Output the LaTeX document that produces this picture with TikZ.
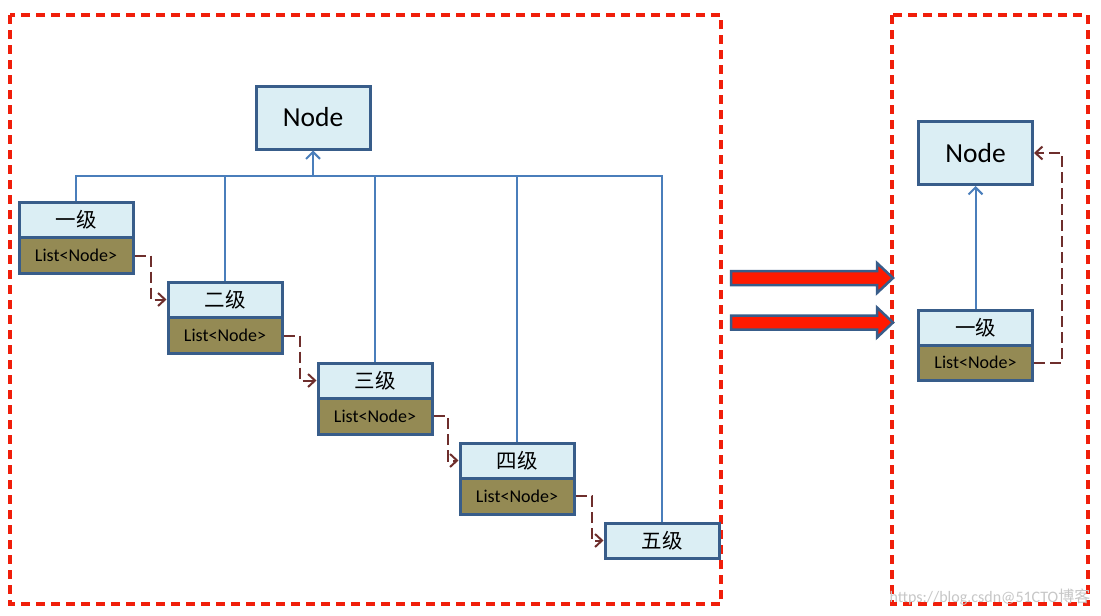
\documentclass[tikz,border=0pt]{standalone}
\usepackage{fontspec}
\setmainfont{Carlito}
\newfontfamily\cjk{Noto Sans CJK SC}
\usetikzlibrary{arrows.meta}
\definecolor{bord}{HTML}{385D8A}
\definecolor{lblue}{HTML}{DBEEF4}
\definecolor{olivebox}{HTML}{948A54}
\definecolor{conn}{HTML}{4A7EBB}
\definecolor{brn}{HTML}{6E2E2C}
\definecolor{redline}{HTML}{F01E0A}
\definecolor{redfill}{HTML}{FF1A00}
\tikzset{
  frame/.style={draw=redline, line width=3.2pt, dash pattern=on 9pt off 6pt},
  nodebox/.style={draw=bord, fill=lblue, line width=3pt, minimum width=114pt, minimum height=63pt, inner sep=0pt, font=\fontsize{27.5}{27.5}\selectfont},
  lvl/.style={draw=bord, fill=lblue, line width=3pt, minimum width=114pt, minimum height=35pt, inner sep=0pt, font=\cjk\fontsize{20.5}{20.5}\selectfont},
  lst/.style={draw=bord, fill=olivebox, line width=3pt, minimum width=114pt, minimum height=36pt, inner sep=0pt, font=\fontsize{18}{18}\selectfont},
  bl/.style={draw=conn, line width=2pt},
  blarrow/.style={bl, -{Straight Barb[length=7pt,width=14pt,line width=2pt]}},
  br/.style={draw=brn, line width=2pt, dash pattern=on 11pt off 5pt, -{Straight Barb[length=7pt,width=13pt,line width=2pt]}},
  bigarrow/.style={fill=redfill, draw=bord, line width=2.5pt, line join=miter}
}
\begin{document}
\begin{tikzpicture}[x=1pt,y=-1pt]
\useasboundingbox (0,0) rectangle (1101,616);
\fill[white] (0,0) rectangle (1101,616);
% frames
\draw[frame] (10,15) rectangle (721,604);
\draw[frame] (892,15) rectangle (1088,604);
% left side
\node[nodebox] (N) at (313,117.5) {Node};
\node[lst] (p1) at (76,255.5) {List<Node>};
\node[lvl] (l1) at (76,219.5) {一级};
\node[lst] (p2) at (225,335.5) {List<Node>};
\node[lvl] (l2) at (225,299.5) {二级};
\node[lst] (p3) at (375,416) {List<Node>};
\node[lvl] (l3) at (375,380.5) {三级};
\node[lst] (p4) at (517,496) {List<Node>};
\node[lvl] (l4) at (517,460.5) {四级};
\node[lvl] (l5) at (662,540.5) {五级};
\coordinate (j) at (313,176);
\draw[bl] (l1.north) -- (l1.north |- j) -- (l5.north |- j) -- (l5.north);
\draw[bl] (l2.north) -- (l2.north |- j);
\draw[bl] (l3.north) -- (l3.north |- j);
\draw[bl] (l4.north) -- (l4.north |- j);
\draw[blarrow] (j) -- (N.south);
\draw[br] (p1.east) -- ++(16,0) |- (l2.west);
\draw[br] (p2.east) -- ++(16,0) |- (l3.west);
\draw[br] (p3.east) -- ++(14,0) |- (l4.west);
\draw[br] (p4.east) -- ++(16,0) |- (l5.west);
% big arrows
\draw[bigarrow] (731,271) -- (877,271) -- (877,263) -- (893,278) -- (877,293) -- (877,285) -- (731,285) -- cycle;
\draw[bigarrow] (731,315.5) -- (877,315.5) -- (877,307.5) -- (893,322.5) -- (877,337.5) -- (877,329.5) -- (731,329.5) -- cycle;
% right side
\node[nodebox] (rN) at (975.5,153) {Node};
\node[lst] (rp) at (975.5,362.5) {List<Node>};
\node[lvl] (rl) at (975.5,327.5) {一级};
\draw[blarrow] (rl.north) -- (rN.south);
\draw[br] (rp.east) -- ++(28,0) |- (rN.east);
% watermark
\node[text=black!22, font=\fontsize{16}{16}\selectfont, inner sep=0pt] (wm) at (990,597) {https://blog.csdn@51CTO{\cjk 博客}};
\end{tikzpicture}
\end{document}
